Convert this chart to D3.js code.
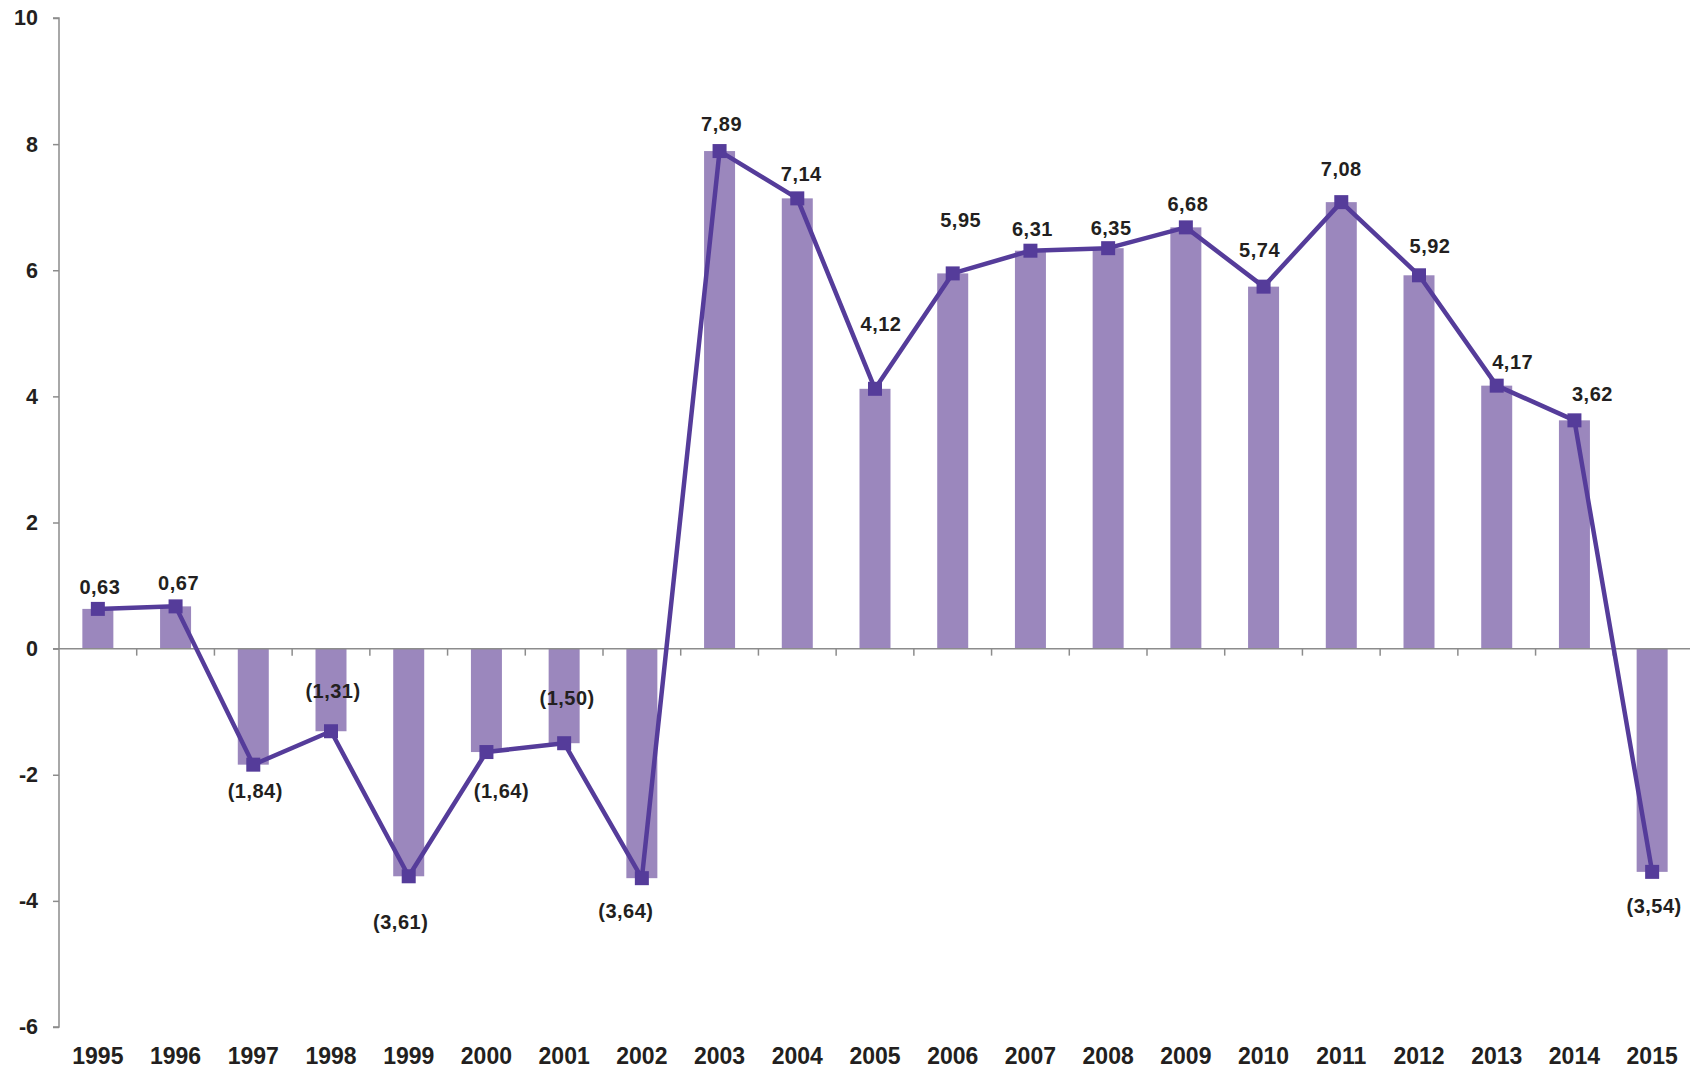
<!DOCTYPE html>
<html><head><meta charset="utf-8">
<script src="https://cdn.jsdelivr.net/npm/d3@7"></script>
<style>html,body{margin:0;padding:0;background:#fff;}svg{display:block;}</style>
</head><body>
<script>
const years = ["1995","1996","1997","1998","1999","2000","2001","2002","2003","2004","2005","2006","2007","2008","2009","2010","2011","2012","2013","2014","2015"];
const values = [0.63,0.67,-1.84,-1.31,-3.61,-1.64,-1.50,-3.64,7.89,7.14,4.12,5.95,6.31,6.35,6.68,5.74,7.08,5.92,4.17,3.62,-3.54];
const yTicks = [10,8,6,4,2,0,-2,-4,-6];
// label placement (layout only): offsets from marker, in px
const labelDx = [2,3,2,2,-8,15,3,-16,2,4,6,8,2,3,2,-4,0,11,16,18,2];
const labelDy = [-22,-23,26,-40,46,39,-45,33,-27,-24,-65,-53,-22,-20,-23,-37,-33,-29,-24,-26,34];

const W = 1690, H = 1070;
const svg = d3.select("body").append("svg").attr("width", W).attr("height", H);
const x = d3.scaleBand().domain(years).range([59, 1691]).paddingInner(0).paddingOuter(0);
const y = d3.scaleLinear().domain([-6, 10]).range([1027, 18]);
const fmt = v => { const s = Math.abs(v).toFixed(2).replace(".", ","); return v < 0 ? "(" + s + ")" : s; };
const font = "'Liberation Sans', Arial, sans-serif";
const barW = 31;

// bars
svg.append("g").selectAll("rect").data(values).join("rect")
  .attr("x", (d,i) => x(years[i]) + x.bandwidth()/2 - barW/2)
  .attr("width", barW)
  .attr("y", d => y(Math.max(0, d)))
  .attr("height", d => Math.abs(y(d) - y(0)))
  .attr("fill", "#9b87bd");

// y axis
const yAxis = svg.append("g").attr("transform", "translate(59,0)")
  .call(d3.axisLeft(y).tickValues(yTicks).tickSize(6).tickPadding(15).tickFormat(d => String(d)));
yAxis.select(".domain").attr("stroke", "#8c8c8c").attr("stroke-width", 1.5).attr("d", `M-6,${y(10)}H0V${y(-6)}H-6`);
yAxis.selectAll(".tick line").attr("stroke", "#8c8c8c").attr("stroke-width", 1.5);
yAxis.selectAll(".tick text").attr("font-family", font).attr("font-weight", "bold").attr("font-size", "21.5px").attr("fill", "#231f20");

// zero line with category tick marks
const xAxis = svg.append("g").attr("transform", `translate(0,${y(0)})`)
  .call(d3.axisBottom(x).tickSize(0).tickFormat(""));
xAxis.select(".domain").attr("stroke", "#8c8c8c").attr("stroke-width", 1.5).attr("d", `M53,0H1690`);
xAxis.selectAll(".tick").remove();
svg.append("g").selectAll("line").data(years.slice(1)).join("line")
  .attr("x1", d => x(d)).attr("x2", d => x(d))
  .attr("y1", y(0)).attr("y2", y(0) + 7)
  .attr("stroke", "#8c8c8c").attr("stroke-width", 1.5);

// x labels at bottom
svg.append("g").selectAll("text").data(years).join("text")
  .attr("x", d => x(d) + x.bandwidth()/2)
  .attr("y", 1064)
  .attr("text-anchor", "middle")
  .attr("font-family", font).attr("font-weight", "bold").attr("font-size", "23px").attr("fill", "#231f20")
  .text(d => d);

// line
const cx = (i) => x(years[i]) + x.bandwidth()/2;
svg.append("path").datum(values)
  .attr("d", d3.line().x((d,i) => cx(i)).y(d => y(d)))
  .attr("fill", "none").attr("stroke", "#553c9a").attr("stroke-width", 4.5).attr("stroke-linejoin", "round");

// markers
const ms = 14;
svg.append("g").selectAll("rect").data(values).join("rect")
  .attr("x", (d,i) => cx(i) - ms/2).attr("y", d => y(d) - ms/2)
  .attr("width", ms).attr("height", ms).attr("fill", "#553c9a");

// data labels
svg.append("g").selectAll("text").data(values).join("text")
  .attr("x", (d,i) => cx(i) + labelDx[i])
  .attr("y", (d,i) => y(d) + labelDy[i])
  .attr("dy", "0.35em")
  .attr("text-anchor", "middle")
  .attr("font-family", font).attr("font-weight", "bold").attr("font-size", "20px")
  .attr("letter-spacing", "0.5px").attr("fill", "#231f20")
  .text(d => fmt(d));
</script>
</body></html>
